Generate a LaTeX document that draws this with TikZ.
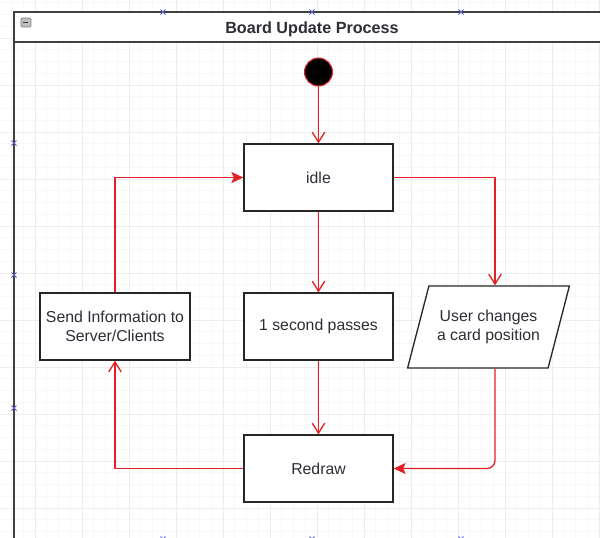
\documentclass[tikz,border=0pt]{standalone}
\usepackage{fontspec}
\setmainfont{Liberation Sans}
\usepackage{tikz}
\usetikzlibrary{arrows.meta,shapes.geometric}

\definecolor{flowred}{RGB}{226,32,38}
\definecolor{handleblue}{RGB}{90,90,200}
\definecolor{txtgray}{RGB}{45,45,55}

\begin{document}
\begin{tikzpicture}[x=0.02cm,y=-0.02cm,
		state/.style={draw=black!85,line width=0.75pt,fill=white,minimum width=2.98cm,
			minimum height=1.34cm,align=center,text=txtgray,inner xsep=2pt,font=\fontsize{9}{10.8}\selectfont},
		flow/.style={draw=flowred,line width=0.75pt},
		openhead/.style={-{Straight Barb[length=0.2cm,width=0.25cm]}},
		fullhead/.style={-{Stealth[length=0.24cm,width=0.22cm,inset=0.05cm]}}]
			\useasboundingbox (0,0) rectangle (600,538);
			% Vẽ lưới nền
			\foreach \i in {0,...,52}
			\draw[black!3,line width=0.3pt] ({\i*11.75-12},0) -- ({\i*11.75-12},538);
			\foreach \i in {0,...,46}
			\draw[black!3,line width=0.3pt] (0,{\i*11.75-9}) -- (600,{\i*11.75-9});
			\foreach \i in {0,...,13}
			\draw[black!7,line width=0.4pt] ({\i*47-12},0) -- ({\i*47-12},538);
			\foreach \i in {0,...,11}
			\draw[black!7,line width=0.4pt] (0,{\i*47-9}) -- (600,{\i*47-9});
			% Khung tiêu đề
			\fill[white] (14,12) rectangle (601,42);
			\draw[black!75,line width=0.9pt] (14,539) -- (14,12) -- (601,12);
			\draw[black!75,line width=0.9pt] (14,42) -- (601,42);
			\node[font=\bfseries\fontsize{9.2}{11}\selectfont,text=txtgray] (title) at (312,29) {Board Update Process};
			\draw[gray,fill=black!25,rounded corners=0.6pt] (21,18) rectangle (31,27);
			\draw[black!80,line width=0.8pt] (23.5,22.5) -- (28.5,22.5);
			\foreach \p in {(163,12),(312,12),(461,12),(14,143),(14,275),(14,408),(163,539),(312,539),(461,539)}
			\draw[handleblue,line width=0.5pt] \p +(-2.5,-2.5) -- +(2.5,2.5) +(-2.5,2.5) -- +(2.5,-2.5);
			% Vẽ các trạng thái
			\node[circle,fill=black,draw=flowred,line width=0.6pt,minimum size=0.56cm,inner sep=0pt] (start) at (318.5,72) {};
			\node[state] (idle) at (318.5,177.5) {idle};
			\node[state] (second) at (318.5,326.5) {1 second passes};
			\node[state,minimum width=3cm] (send) at (115,326.5) {Send Information to\\Server/Clients};
			\node[state,trapezium,trapezium left angle=68,trapezium right angle=112,trapezium stretches=true,
				minimum width=3.26cm,minimum height=1.64cm,inner xsep=0pt] (user) at (488.5,327) {User changes\\a card position};
			\node[state] (redraw) at (318.5,468.5) {Redraw};
			% Vẽ các mũi tên
			\draw[flow,openhead] (start) -- (idle);
			\draw[flow,openhead] (idle) -- (second);
			\draw[flow,openhead] (second) -- (redraw);
			\draw[flow,openhead] (idle.east) -| ([xshift=0.13cm]user.north);
			\draw[flow,fullhead,rounded corners=0.16cm] ([xshift=0.13cm]user.south) |- (redraw.east);
			\draw[flow,openhead] (redraw.west) -| (send.south);
			\draw[flow,fullhead] (send.north) |- (idle.west);
		\end{tikzpicture}
\end{document}
